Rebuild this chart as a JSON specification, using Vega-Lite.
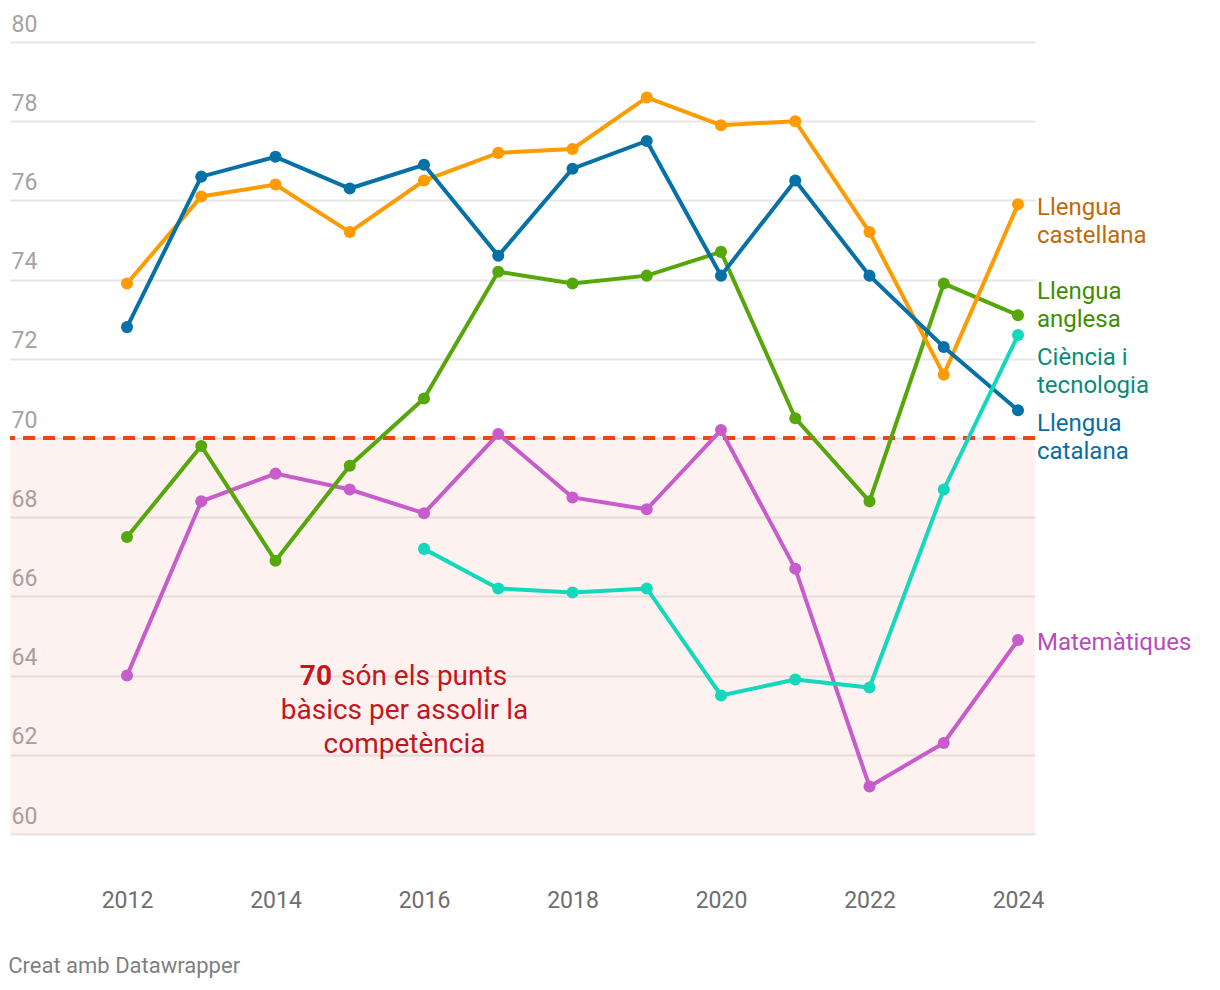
{
  "$schema": "https://vega.github.io/schema/vega-lite/v6.json",
  "width": 1025,
  "height": 792,
  "autosize": {"type": "none"},
  "padding": {"left": 10, "top": 42, "right": 185, "bottom": 156},
  "background": "white",
  "config": {"font": "Roboto", "view": {"stroke": null}},
  "title": {
    "text": "Creat amb Datawrapper",
    "orient": "bottom",
    "anchor": "start",
    "offset": 44,
    "fontSize": 22,
    "fontWeight": "normal",
    "color": "#7f7f7f",
    "font": "Roboto"
  },
  "datasets": {
    "scores": [
      {"series": "Matemàtiques", "year": 2012, "value": 64.0},
      {"series": "Matemàtiques", "year": 2013, "value": 68.4},
      {"series": "Matemàtiques", "year": 2014, "value": 69.1},
      {"series": "Matemàtiques", "year": 2015, "value": 68.7},
      {"series": "Matemàtiques", "year": 2016, "value": 68.1},
      {"series": "Matemàtiques", "year": 2017, "value": 70.1},
      {"series": "Matemàtiques", "year": 2018, "value": 68.5},
      {"series": "Matemàtiques", "year": 2019, "value": 68.2},
      {"series": "Matemàtiques", "year": 2020, "value": 70.2},
      {"series": "Matemàtiques", "year": 2021, "value": 66.7},
      {"series": "Matemàtiques", "year": 2022, "value": 61.2},
      {"series": "Matemàtiques", "year": 2023, "value": 62.3},
      {"series": "Matemàtiques", "year": 2024, "value": 64.9},
      {"series": "Llengua anglesa", "year": 2012, "value": 67.5},
      {"series": "Llengua anglesa", "year": 2013, "value": 69.8},
      {"series": "Llengua anglesa", "year": 2014, "value": 66.9},
      {"series": "Llengua anglesa", "year": 2015, "value": 69.3},
      {"series": "Llengua anglesa", "year": 2016, "value": 71.0},
      {"series": "Llengua anglesa", "year": 2017, "value": 74.2},
      {"series": "Llengua anglesa", "year": 2018, "value": 73.9},
      {"series": "Llengua anglesa", "year": 2019, "value": 74.1},
      {"series": "Llengua anglesa", "year": 2020, "value": 74.7},
      {"series": "Llengua anglesa", "year": 2021, "value": 70.5},
      {"series": "Llengua anglesa", "year": 2022, "value": 68.4},
      {"series": "Llengua anglesa", "year": 2023, "value": 73.9},
      {"series": "Llengua anglesa", "year": 2024, "value": 73.1},
      {"series": "Llengua castellana", "year": 2012, "value": 73.9},
      {"series": "Llengua castellana", "year": 2013, "value": 76.1},
      {"series": "Llengua castellana", "year": 2014, "value": 76.4},
      {"series": "Llengua castellana", "year": 2015, "value": 75.2},
      {"series": "Llengua castellana", "year": 2016, "value": 76.5},
      {"series": "Llengua castellana", "year": 2017, "value": 77.2},
      {"series": "Llengua castellana", "year": 2018, "value": 77.3},
      {"series": "Llengua castellana", "year": 2019, "value": 78.6},
      {"series": "Llengua castellana", "year": 2020, "value": 77.9},
      {"series": "Llengua castellana", "year": 2021, "value": 78.0},
      {"series": "Llengua castellana", "year": 2022, "value": 75.2},
      {"series": "Llengua castellana", "year": 2023, "value": 71.6},
      {"series": "Llengua castellana", "year": 2024, "value": 75.9},
      {"series": "Llengua catalana", "year": 2012, "value": 72.8},
      {"series": "Llengua catalana", "year": 2013, "value": 76.6},
      {"series": "Llengua catalana", "year": 2014, "value": 77.1},
      {"series": "Llengua catalana", "year": 2015, "value": 76.3},
      {"series": "Llengua catalana", "year": 2016, "value": 76.9},
      {"series": "Llengua catalana", "year": 2017, "value": 74.6},
      {"series": "Llengua catalana", "year": 2018, "value": 76.8},
      {"series": "Llengua catalana", "year": 2019, "value": 77.5},
      {"series": "Llengua catalana", "year": 2020, "value": 74.1},
      {"series": "Llengua catalana", "year": 2021, "value": 76.5},
      {"series": "Llengua catalana", "year": 2022, "value": 74.1},
      {"series": "Llengua catalana", "year": 2023, "value": 72.3},
      {"series": "Llengua catalana", "year": 2024, "value": 70.7},
      {"series": "Ciència i tecnologia", "year": 2016, "value": 67.2},
      {"series": "Ciència i tecnologia", "year": 2017, "value": 66.2},
      {"series": "Ciència i tecnologia", "year": 2018, "value": 66.1},
      {"series": "Ciència i tecnologia", "year": 2019, "value": 66.2},
      {"series": "Ciència i tecnologia", "year": 2020, "value": 63.5},
      {"series": "Ciència i tecnologia", "year": 2021, "value": 63.9},
      {"series": "Ciència i tecnologia", "year": 2022, "value": 63.7},
      {"series": "Ciència i tecnologia", "year": 2023, "value": 68.7},
      {"series": "Ciència i tecnologia", "year": 2024, "value": 72.6}
    ]
  },
  "data": {"name": "scores"},
  "layer": [
    {
      "data": {"values": [{"from": 60, "to": 70}]},
      "mark": {"type": "rect", "color": "#e87058", "opacity": 0.09},
      "encoding": {
        "y": {
          "field": "from",
          "type": "quantitative",
          "title": null,
          "scale": {"domain": [60, 80], "nice": false, "zero": false},
          "axis": {
            "values": [60, 62, 64, 66, 68, 70, 72, 74, 76, 78, 80],
            "domain": false,
            "ticks": false,
            "grid": true,
            "gridColor": "#e6e6e6",
            "gridWidth": 2,
            "labelAlign": "left",
            "labelBaseline": "alphabetic",
            "labelPadding": -1,
            "labelOffset": -11,
            "labelFontSize": 23,
            "labelColor": "#a3a3a3",
            "labelFont": "Roboto",
            "zindex": 0
          }
        },
        "y2": {"field": "to"}
      }
    },
    {
      "mark": {"type": "rule", "color": "#e8490f", "strokeWidth": 3.5, "strokeDash": [12, 8]},
      "encoding": {"y": {"datum": 70, "type": "quantitative", "title": null}}
    },
    {
      "mark": {"type": "line", "strokeWidth": 4},
      "encoding": {
        "x": {
          "field": "year",
          "type": "quantitative",
          "title": null,
          "scale": {"domain": [2010.424, 2024.229], "nice": false, "zero": false},
          "axis": {
            "values": [2012, 2014, 2016, 2018, 2020, 2022, 2024],
            "format": "d",
            "domain": false,
            "ticks": false,
            "grid": false,
            "labelBaseline": "alphabetic",
            "labelPadding": 73,
            "labelFontSize": 23,
            "labelColor": "#6e6e6e",
            "labelFont": "Roboto"
          }
        },
        "y": {"field": "value", "type": "quantitative", "title": null},
        "color": {
          "field": "series",
          "type": "nominal",
          "legend": null,
          "scale": {
            "domain": ["Matemàtiques", "Llengua anglesa", "Llengua castellana", "Llengua catalana", "Ciència i tecnologia"],
            "range": ["#c95ccc", "#55a70a", "#fd9b00", "#0571a6", "#14d8bb"]
          }
        }
      }
    },
    {
      "mark": {"type": "circle", "size": 145, "opacity": 1},
      "encoding": {
        "x": {"field": "year", "type": "quantitative", "title": null},
        "y": {"field": "value", "type": "quantitative", "title": null},
        "color": {"field": "series", "type": "nominal", "legend": null}
      }
    },
    {
      "transform": [{"filter": "datum.series === 'Llengua castellana' && datum.year === 2024"}],
      "mark": {"type": "text", "text": ["Llengua", "castellana"], "align": "left", "baseline": "middle", "dx": 19, "dy": 4, "fontSize": 24, "lineHeight": 28, "color": "#c2690a"},
      "encoding": {"x": {"field": "year", "type": "quantitative", "title": null}, "y": {"field": "value", "type": "quantitative", "title": null}}
    },
    {
      "transform": [{"filter": "datum.series === 'Llengua anglesa' && datum.year === 2024"}],
      "mark": {"type": "text", "text": ["Llengua", "anglesa"], "align": "left", "baseline": "middle", "dx": 19, "dy": -23, "fontSize": 24, "lineHeight": 28, "color": "#3f8e00"},
      "encoding": {"x": {"field": "year", "type": "quantitative", "title": null}, "y": {"field": "value", "type": "quantitative", "title": null}}
    },
    {
      "transform": [{"filter": "datum.series === 'Ciència i tecnologia' && datum.year === 2024"}],
      "mark": {"type": "text", "text": ["Ciència i", "tecnologia"], "align": "left", "baseline": "middle", "dx": 19, "dy": 23, "fontSize": 24, "lineHeight": 28, "color": "#0b8b78"},
      "encoding": {"x": {"field": "year", "type": "quantitative", "title": null}, "y": {"field": "value", "type": "quantitative", "title": null}}
    },
    {
      "transform": [{"filter": "datum.series === 'Llengua catalana' && datum.year === 2024"}],
      "mark": {"type": "text", "text": ["Llengua", "catalana"], "align": "left", "baseline": "middle", "dx": 19, "dy": 14, "fontSize": 24, "lineHeight": 28, "color": "#0a6ea6"},
      "encoding": {"x": {"field": "year", "type": "quantitative", "title": null}, "y": {"field": "value", "type": "quantitative", "title": null}}
    },
    {
      "transform": [{"filter": "datum.series === 'Matemàtiques' && datum.year === 2024"}],
      "mark": {"type": "text", "text": "Matemàtiques", "align": "left", "baseline": "middle", "dx": 19, "dy": 3, "fontSize": 24, "color": "#b54dbb"},
      "encoding": {"x": {"field": "year", "type": "quantitative", "title": null}, "y": {"field": "value", "type": "quantitative", "title": null}}
    },
    {
      "data": {"values": [{"x": 2014.761, "y": 63.96}]},
      "mark": {"type": "text", "text": "70", "align": "right", "baseline": "middle", "fontSize": 28, "fontWeight": "bold", "color": "#c4161c"},
      "encoding": {"x": {"field": "x", "type": "quantitative", "title": null}, "y": {"field": "y", "type": "quantitative", "title": null}}
    },
    {
      "data": {"values": [{"x": 2014.761, "y": 63.96}]},
      "mark": {"type": "text", "text": "són els punts", "align": "left", "baseline": "middle", "dx": 9, "fontSize": 28, "color": "#c4161c"},
      "encoding": {"x": {"field": "x", "type": "quantitative", "title": null}, "y": {"field": "y", "type": "quantitative", "title": null}}
    },
    {
      "data": {"values": [{"x": 2015.737, "y": 63.11, "line": "bàsics per assolir la"}, {"x": 2015.737, "y": 62.25, "line": "competència"}]},
      "mark": {"type": "text", "align": "center", "baseline": "middle", "fontSize": 28, "color": "#c4161c"},
      "encoding": {"x": {"field": "x", "type": "quantitative", "title": null}, "y": {"field": "y", "type": "quantitative", "title": null}, "text": {"field": "line"}}
    }
  ]
}
